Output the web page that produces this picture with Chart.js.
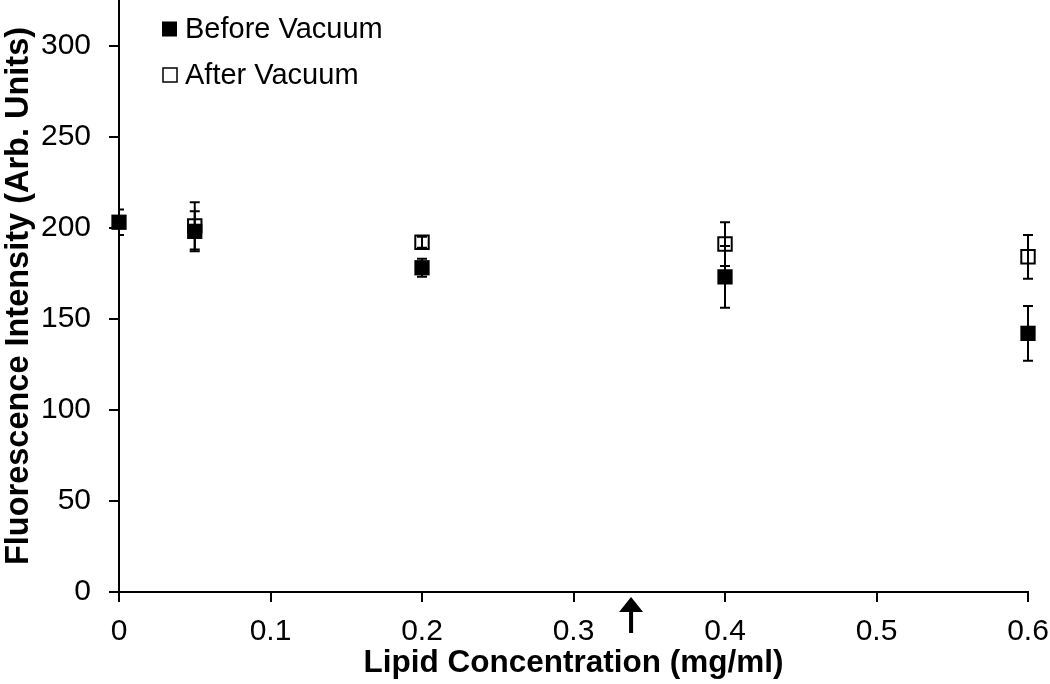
<!DOCTYPE html>
<html>
<head>
<meta charset="utf-8">
<script src="https://cdn.jsdelivr.net/npm/chart.js@4"></script>
<style>
  html, body { margin: 0; padding: 0; background: #fff; }
  canvas { display: block; }
</style>
</head>
<body>
<canvas id="chart" width="1050" height="684"></canvas>
<script>
// lipid concentration (mg/ml)
const concentrations = [0, 0.05, 0.2, 0.4, 0.6];
// fluorescence before / after vacuum, with error bars
const beforeVacuum = [203, 198, 178, 173, 142];
const beforeErr = [7, 11, 5, 17, 15];
const afterVacuum = [null, 201, 192, 191, 184];
const afterErr = [null, 13, 3, 12, 12];
const xTicks = [0, 0.1, 0.2, 0.3, 0.4, 0.5, 0.6];
const yTicks = [0, 50, 100, 150, 200, 250, 300];
const arrowX = 0.338;

const FONT = "'Liberation Sans', Arial, sans-serif";

function toPoints(xs, ys) {
  return xs.map((x, i) => ({ x: x, y: ys[i] })).filter(p => p.y !== null);
}
function toErrs(ys, errs) {
  return errs.filter((e, i) => ys[i] !== null);
}

// error bars drawn on top of the markers (cut only at the y axis)
const errorBars = {
  id: "errorBars",
  afterDatasetsDraw(chart) {
    const { ctx, chartArea, scales } = chart;
    ctx.save();
    ctx.beginPath();
    ctx.rect(chartArea.left, 0, chart.width - chartArea.left, chart.height);
    ctx.clip();
    ctx.strokeStyle = "#000";
    ctx.lineWidth = 2;
    chart.data.datasets.forEach(ds => {
      ds.data.forEach((p, i) => {
        const e = ds.errors[i];
        if (!e) return;
        const x = scales.x.getPixelForValue(p.x);
        const y1 = scales.y.getPixelForValue(p.y + e);
        const y2 = scales.y.getPixelForValue(p.y - e);
        ctx.beginPath();
        ctx.moveTo(x, y1); ctx.lineTo(x, y2);
        ctx.moveTo(x - 5, y1); ctx.lineTo(x + 5, y1);
        ctx.moveTo(x - 5, y2); ctx.lineTo(x + 5, y2);
        ctx.stroke();
      });
    });
    ctx.restore();
  }
};

// legend in the top-left corner of the plot
const cornerLegend = {
  id: "cornerLegend",
  afterDraw(chart) {
    const { ctx } = chart;
    ctx.save();
    ctx.font = "29px " + FONT;
    ctx.textBaseline = "middle";
    ctx.fillStyle = "#000";
    chart.data.datasets.forEach((ds, i) => {
      const cy = 29 + i * 46;
      if (ds.filled) {
        ctx.fillRect(162, cy - 7.5, 15, 15);
      } else {
        ctx.lineWidth = 1.5;
        ctx.strokeRect(163, cy - 7, 14, 14);
      }
      ctx.fillText(ds.label, 185, cy + 1);
    });
    ctx.restore();
  }
};

// arrow under the x axis
const arrowMark = {
  id: "arrowMark",
  afterDraw(chart) {
    const { ctx, scales, chartArea } = chart;
    const x = scales.x.getPixelForValue(arrowX);
    const top = chartArea.bottom + 5;
    ctx.save();
    ctx.fillStyle = "#000";
    ctx.beginPath();
    ctx.moveTo(x, top);
    ctx.lineTo(x + 12, top + 15);
    ctx.lineTo(x - 12, top + 15);
    ctx.closePath();
    ctx.fill();
    ctx.fillRect(x - 2, top + 14, 4, 22);
    ctx.restore();
  }
};

new Chart(document.getElementById("chart"), {
  type: "scatter",
  data: {
    datasets: [
      {
        label: "Before Vacuum",
        data: toPoints(concentrations, beforeVacuum),
        errors: toErrs(beforeVacuum, beforeErr),
        filled: true,
        pointStyle: "rect",
        pointRadius: 10.8,
        backgroundColor: "#000",
        borderColor: "#000",
        borderWidth: 0,
        clip: false,
        order: 1
      },
      {
        label: "After Vacuum",
        data: toPoints(concentrations, afterVacuum),
        errors: toErrs(afterVacuum, afterErr),
        filled: false,
        pointStyle: "rect",
        pointRadius: 9.5,
        backgroundColor: "rgba(0,0,0,0)",
        borderColor: "#000",
        borderWidth: 2,
        clip: false,
        order: 2
      }
    ]
  },
  options: {
    responsive: false,
    animation: false,
    layout: { autoPadding: false, padding: { left: 0, right: 22, top: 0, bottom: 0 } },
    plugins: {
      legend: { display: false },
      tooltip: { enabled: false }
    },
    scales: {
      x: {
        type: "linear",
        min: 0,
        max: 0.6,
        afterBuildTicks: s => { s.ticks = xTicks.map(v => ({ value: v })); },
        afterFit: s => { s.height = 92; s.paddingLeft = 0; s.paddingRight = 0; },
        border: { display: true, color: "#000", width: 2 },
        grid: { display: true, drawOnChartArea: false, drawTicks: true, tickLength: 10, color: "#000", lineWidth: 2 },
        ticks: {
          color: "#000",
          padding: 12,
          font: { family: FONT, size: 30 },
          callback: v => String(Number(v.toFixed(1)))
        },
        title: {
          display: true,
          text: "Lipid Concentration (mg/ml)",
          color: "#000",
          padding: { top: 0, bottom: 2 },
          font: { family: FONT, size: 31.5, weight: "bold" }
        }
      },
      y: {
        type: "linear",
        min: 0,
        max: 325,
        afterBuildTicks: s => { s.ticks = yTicks.map(v => ({ value: v })); },
        afterFit: s => { s.width = 119; s.paddingTop = 0; s.paddingBottom = 0; },
        border: { display: true, color: "#000", width: 2 },
        grid: { display: true, drawOnChartArea: false, drawTicks: true, tickLength: 10, color: "#000", lineWidth: 2 },
        ticks: {
          color: "#000",
          padding: 18,
          font: { family: FONT, size: 30 }
        },
        title: {
          display: true,
          text: "Fluorescence Intensity (Arb. Units)",
          color: "#000",
          padding: { top: 0, bottom: 0 },
          font: { family: FONT, size: 32.5, weight: "bold" }
        }
      }
    }
  },
  plugins: [errorBars, cornerLegend, arrowMark]
});
</script>
</body>
</html>
